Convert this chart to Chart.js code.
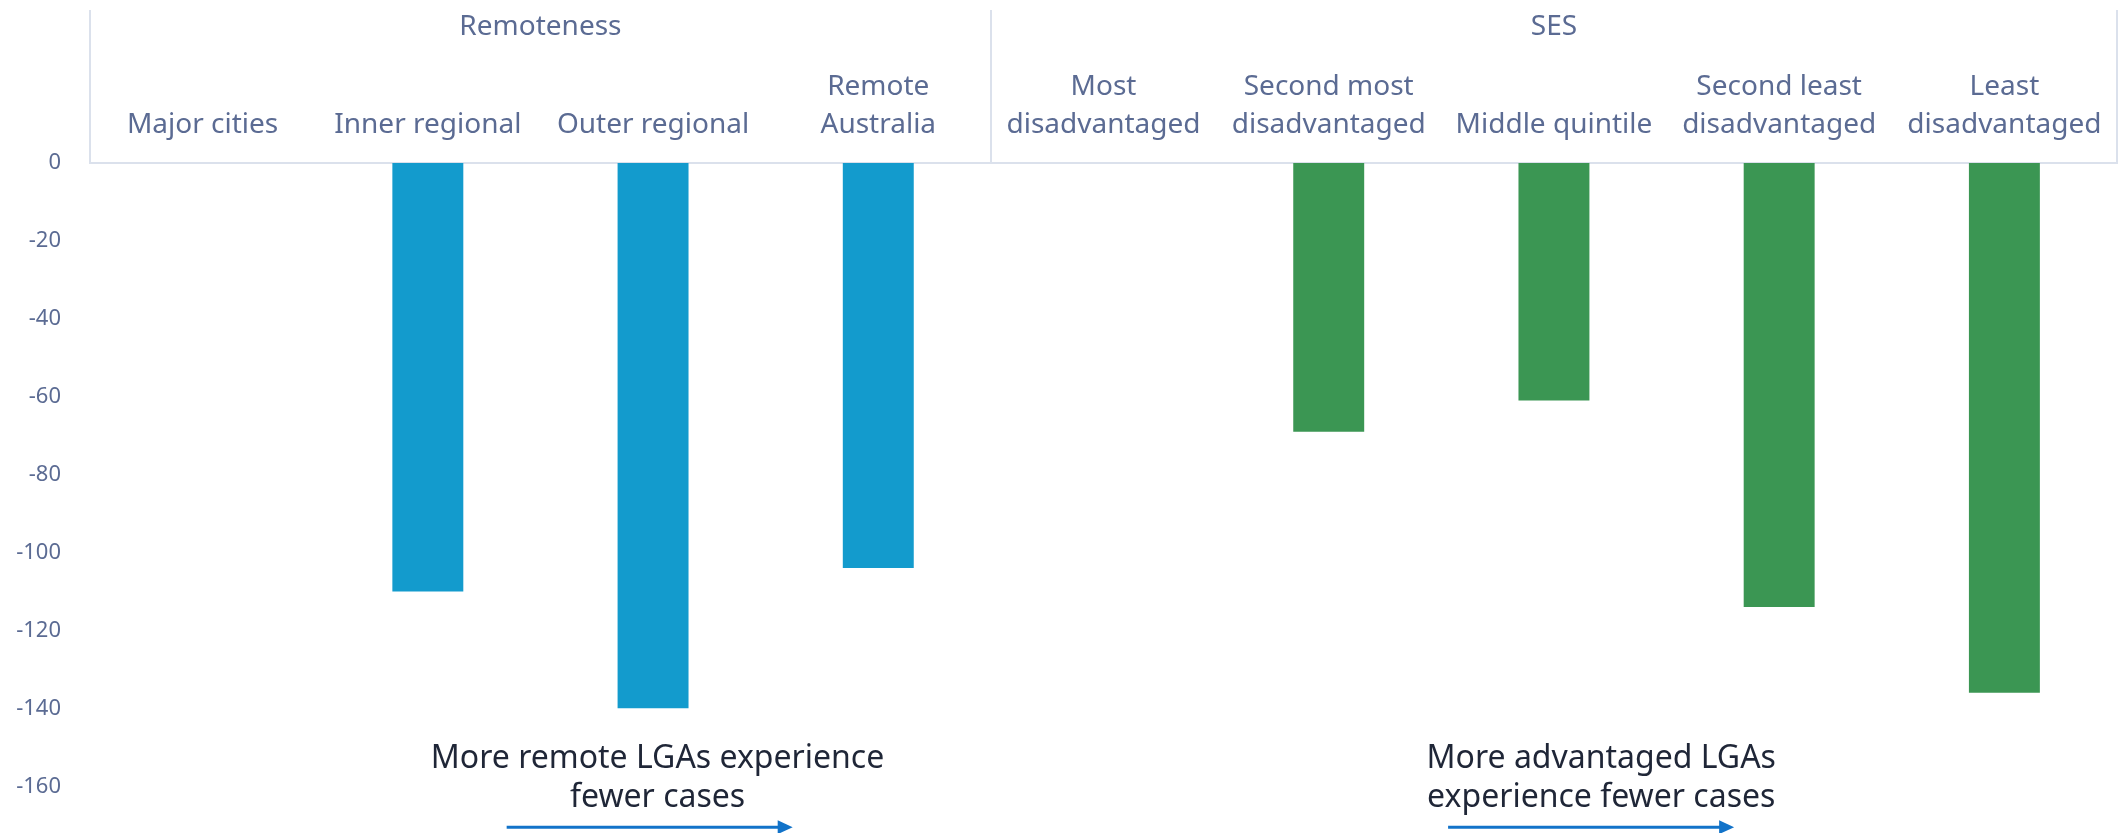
<!DOCTYPE html>
<html>
<head>
<meta charset="utf-8">
<script src="https://cdn.jsdelivr.net/npm/chart.js@4.4.1/dist/chart.umd.min.js"></script>
<style>
  html, body { margin: 0; padding: 0; background: #fff; }
  #wrap { width: 2124px; height: 833px; position: relative; }
</style>
</head>
<body>
<div id="wrap"><canvas id="chart"></canvas></div>
<script>
// categories (multi-line labels) and the two groups
const remotenessLabels = [['Major cities'], ['Inner regional'], ['Outer regional'], ['Remote', 'Australia']];
const sesLabels = [['Most', 'disadvantaged'], ['Second most', 'disadvantaged'], ['Middle quintile'], ['Second least', 'disadvantaged'], ['Least', 'disadvantaged']];
const groupNames = ['Remoteness', 'SES'];

// values
const remotenessValues = [null, -110, -140, -104];
const sesValues = [null, -69, -61, -114, -136];

const yTicks = [0, -20, -40, -60, -80, -100, -120, -140, -160];

const labelColor = '#5b6b93';
const lineColor = '#dbe1ec';
const fontFamily = '"Noto Sans", sans-serif';

const categories = remotenessLabels.concat(sesLabels);
const nR = remotenessLabels.length;
const nS = sesLabels.length;

// notes under the bars
const notes = [
  { lines: ['More remote LGAs experience', 'fewer cases'], at: 2.02, from: 1.35, to: 2.62 },
  { lines: ['More advantaged LGAs', 'experience fewer cases'], at: 6.21, from: 5.53, to: 6.8 }
];

// group headers, divider lines and notes
const extrasPlugin = {
  id: 'extras',
  afterDraw(chart) {
    const ctx = chart.ctx;
    const x = chart.scales.x;
    const y = chart.scales.y;
    const top = 10;
    const bottom = chart.chartArea.top;
    ctx.save();

    // divider lines
    ctx.strokeStyle = lineColor;
    ctx.lineWidth = 2;
    [-0.5, nR - 0.5, nR + nS - 0.5].forEach(v => {
      const px = Math.round(x.getPixelForValue(v));
      ctx.beginPath();
      ctx.moveTo(px, top);
      ctx.lineTo(px, bottom);
      ctx.stroke();
    });

    // group names
    ctx.fillStyle = labelColor;
    ctx.font = '28px ' + fontFamily;
    ctx.textAlign = 'center';
    ctx.textBaseline = 'middle';
    ctx.fillText(groupNames[0], (x.getPixelForValue(-0.5) + x.getPixelForValue(nR - 0.5)) / 2, 27);
    ctx.fillText(groupNames[1], (x.getPixelForValue(nR - 0.5) + x.getPixelForValue(nR + nS - 0.5)) / 2, 27);

    // notes with arrows
    notes.forEach(n => {
      const cx = x.getPixelForValue(n.at);
      ctx.fillStyle = '#1f2637';
      ctx.font = '32px ' + fontFamily;
      ctx.fillText(n.lines[0], cx, y.getPixelForValue(-153));
      ctx.fillText(n.lines[1], cx, y.getPixelForValue(-163));

      const ay = y.getPixelForValue(-170.5);
      const x1 = x.getPixelForValue(n.from);
      const x2 = x.getPixelForValue(n.to);
      ctx.strokeStyle = '#1273c9';
      ctx.fillStyle = '#1273c9';
      ctx.lineWidth = 3;
      ctx.beginPath();
      ctx.moveTo(x1, ay);
      ctx.lineTo(x2 - 12, ay);
      ctx.stroke();
      ctx.beginPath();
      ctx.moveTo(x2, ay);
      ctx.lineTo(x2 - 15, ay - 7);
      ctx.lineTo(x2 - 15, ay + 7);
      ctx.closePath();
      ctx.fill();
    });
    ctx.restore();
  }
};

new Chart(document.getElementById('chart'), {
  type: 'bar',
  data: {
    labels: categories,
    datasets: [
      {
        label: groupNames[0],
        data: remotenessValues.concat(new Array(nS).fill(null)),
        backgroundColor: '#139bcd'
      },
      {
        label: groupNames[1],
        data: new Array(nR).fill(null).concat(sesValues),
        backgroundColor: '#3b9653'
      }
    ]
  },
  options: {
    responsive: true,
    maintainAspectRatio: false,
    animation: false,
    grouped: false,
    categoryPercentage: 1,
    barPercentage: 0.315,
    layout: { padding: { top: 0, right: 7, bottom: 0, left: 0 } },
    plugins: {
      legend: { display: false },
      tooltip: { enabled: false }
    },
    scales: {
      x: {
        position: 'top',
        offset: true,
        grid: { display: false, drawTicks: false },
        border: { display: true, color: lineColor, width: 2 },
        ticks: {
          color: labelColor,
          font: { family: fontFamily, size: 28, lineHeight: 1.36 },
          padding: 19,
          maxRotation: 0,
          autoSkip: false
        },
        afterFit(scale) {
          scale.height = 163;
          scale.paddingLeft = 0;
          scale.paddingRight = 0;
        }
      },
      y: {
        min: -172,
        max: 0,
        grid: { display: false, drawTicks: false },
        border: { display: false },
        afterBuildTicks(scale) { scale.ticks = yTicks.map(v => ({ value: v })); },
        ticks: {
          color: labelColor,
          font: { family: fontFamily, size: 22 },
          padding: 29
        },
        afterFit(scale) {
          scale.width = 90;
          scale.paddingTop = 0;
          scale.paddingBottom = 0;
        }
      }
    }
  },
  plugins: [extrasPlugin]
});
</script>
</body>
</html>
